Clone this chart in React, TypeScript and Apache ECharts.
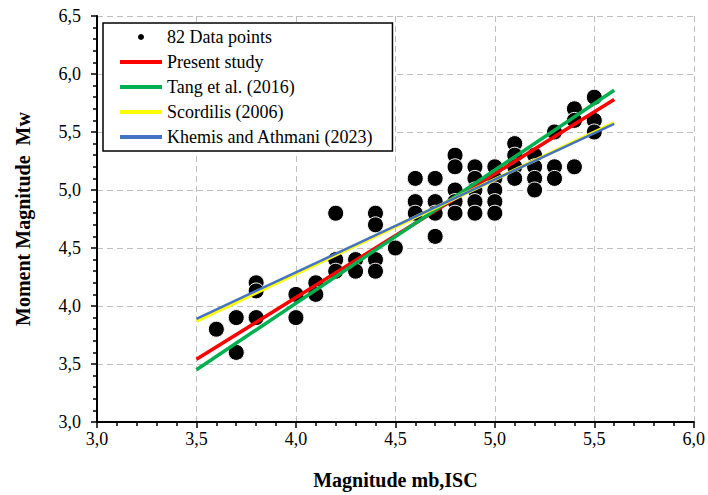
import React, { useEffect, useRef } from "react";
import * as echarts from "echarts";

// Observed data points (mb,ISC -> Mw)
const mbValues = [
  3.6, 3.7, 3.7, 3.8, 3.8, 3.8, 4.0, 4.0, 4.1, 4.1,
  4.2, 4.2, 4.2, 4.3, 4.3, 4.4, 4.4, 4.4, 4.4, 4.5,
  4.6, 4.6, 4.6, 4.7, 4.7, 4.7, 4.7,
  4.8, 4.8, 4.8, 4.8, 4.8,
  4.9, 4.9, 4.9, 4.9, 4.9,
  5.0, 5.0, 5.0, 5.0, 5.0,
  5.1, 5.1, 5.1, 5.1,
  5.2, 5.2, 5.2, 5.2,
  5.3, 5.3, 5.3,
  5.4, 5.4, 5.4,
  5.5, 5.5, 5.5,
];
const mwValues = [
  3.8, 3.9, 3.6, 4.2, 4.13, 3.9, 4.1, 3.9, 4.2, 4.1,
  4.8, 4.4, 4.3, 4.4, 4.3, 4.8, 4.7, 4.4, 4.3, 4.5,
  5.1, 4.9, 4.8, 5.1, 4.9, 4.8, 4.6,
  5.3, 5.2, 5.0, 4.9, 4.8,
  5.2, 5.1, 5.0, 4.9, 4.8,
  5.2, 5.1, 5.0, 4.9, 4.8,
  5.4, 5.3, 5.2, 5.1,
  5.3, 5.2, 5.1, 5.0,
  5.5, 5.2, 5.1,
  5.7, 5.6, 5.2,
  5.8, 5.6, 5.5,
];

// Regression line end points
const lineX = [3.5, 5.6];
const presentStudyY = [3.54, 5.78];
const tangY = [3.45, 5.86];
const scordilisY = [3.87, 5.58];
const khemisY = [3.89, 5.57];

const seriesNames = [
  "82 Data points",
  "Present study",
  "Tang et al. (2016)",
  "Scordilis (2006)",
  "Khemis and Athmani (2023)",
];

const FONT = "'Liberation Serif', 'Times New Roman', serif";
const LINE_ICON = "path://M0,0H42V4H0Z";

const fmt = (v: number) => v.toFixed(1).replace(".", ",");

export default function App() {
  const ref = useRef<HTMLDivElement>(null);
  useEffect(() => {
    if (!ref.current) return;
    const chart = echarts.init(ref.current, undefined, { renderer: "svg" });
    const pts = mbValues.map((x, i) => [x, mwValues[i]]);
    const line = (ys: number[]) => lineX.map((x, i) => [x, ys[i]]);
    const lineSeries = (name: string, ys: number[], color: string, width: number) => ({
      name,
      type: "line",
      data: line(ys),
      symbol: "none",
      lineStyle: { color, width },
      itemStyle: { color },
      z: 3,
    });
    const axisCommon = {
      type: "value",
      interval: 0.5,
      axisLine: { show: true, onZero: false, lineStyle: { color: "#000", width: 2 } },
      axisTick: { show: true, inside: false, length: 6, lineStyle: { color: "#000", width: 1.5 } },
      minorTick: { show: true, splitNumber: 5, length: 4, lineStyle: { color: "#000", width: 1.5 } },
      splitLine: { show: true, lineStyle: { color: "#bfbfbf", type: [6, 4], width: 1 } },
      axisLabel: { formatter: fmt, fontFamily: FONT, fontSize: 18, color: "#000" },
      nameLocation: "middle",
      nameTextStyle: { fontFamily: FONT, fontSize: 20, fontWeight: "bold", color: "#000" },
    };
    chart.setOption({
      animation: false,
      backgroundColor: "#fff",
      grid: { left: 97, right: 11, top: 16, bottom: 70, containLabel: false },
      xAxis: {
        ...axisCommon,
        min: 3,
        max: 6,
        name: "Magnitude mb,ISC",
        nameGap: 48,
        axisLabel: { ...axisCommon.axisLabel, margin: 8 },
      },
      yAxis: {
        ...axisCommon,
        min: 3,
        max: 6.5,
        name: "Moment Magnitude  Mw",
        nameGap: 64,
        axisLabel: { ...axisCommon.axisLabel, margin: 16 },
      },
      legend: {
        orient: "vertical",
        left: 103,
        top: 23,
        data: [
          { name: seriesNames[0], icon: "circle" },
          { name: seriesNames[1], icon: LINE_ICON },
          { name: seriesNames[2], icon: LINE_ICON },
          { name: seriesNames[3], icon: LINE_ICON },
          { name: seriesNames[4], icon: LINE_ICON },
        ],
        itemWidth: 42,
        itemHeight: 8,
        itemGap: 7,
        padding: [5, 19, 5, 17],
        backgroundColor: "#fff",
        borderColor: "#000",
        borderWidth: 1.5,
        borderRadius: 0,
        textStyle: { fontFamily: FONT, fontSize: 18, color: "#000", lineHeight: 18 },
      },
      series: [
        {
          name: seriesNames[0],
          type: "scatter",
          data: pts,
          symbol: "circle",
          symbolSize: 16,
          itemStyle: { color: "#000", opacity: 1, borderColor: "#fff", borderWidth: 1 },
          z: 2,
        },
        lineSeries(seriesNames[1], presentStudyY, "#ff0000", 3.5),
        lineSeries(seriesNames[2], tangY, "#00b050", 3.5),
        lineSeries(seriesNames[3], scordilisY, "#ffff00", 3.5),
        lineSeries(seriesNames[4], khemisY, "#4472c4", 2.5),
      ],
    });
    return () => chart.dispose();
  }, []);
  return (
    <div
      ref={ref}
      style={{ position: "fixed", left: 0, top: 0, width: 708, height: 495 }}
    />
  );
}
